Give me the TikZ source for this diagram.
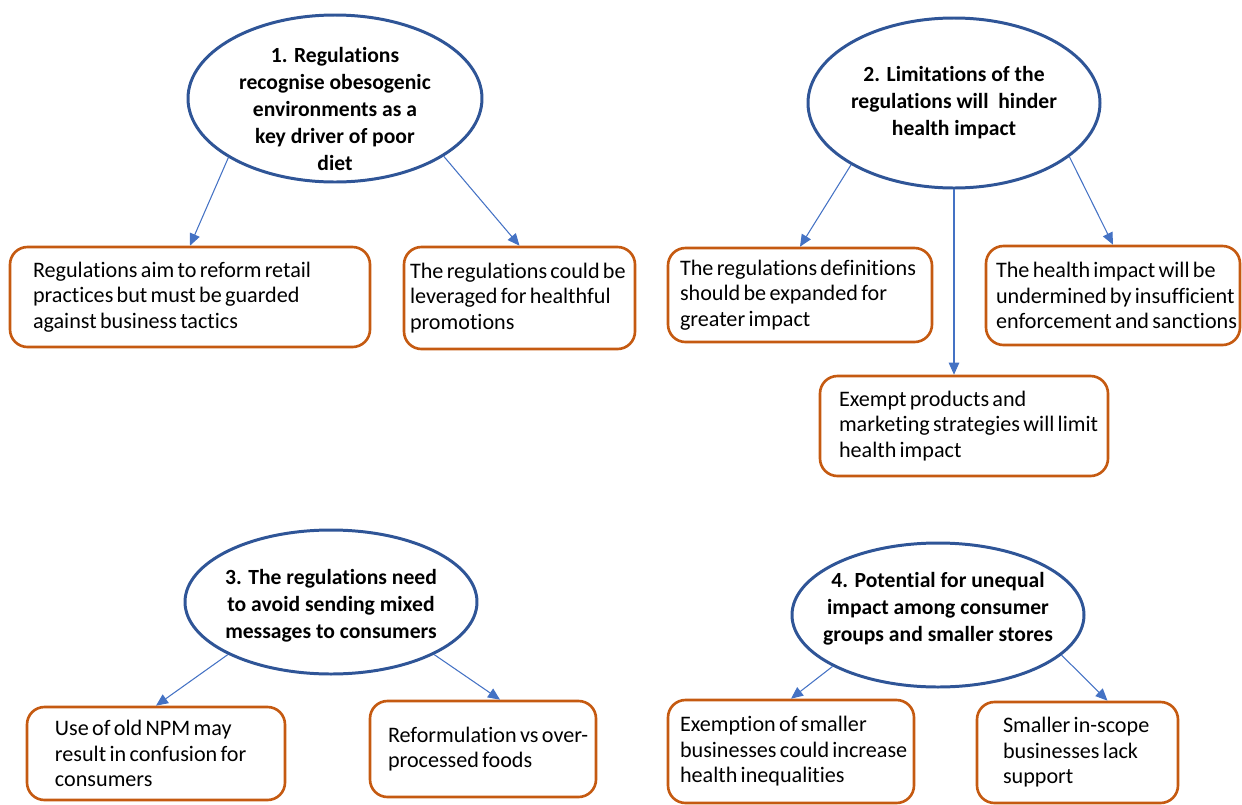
\documentclass[tikz,border=0pt]{standalone}
\usepackage{fontspec}
\setmainfont{Carlito}[Ligatures=CommonOff]
\usetikzlibrary{shapes.geometric,arrows.meta}
\definecolor{themeblue}{HTML}{2F5597}
\definecolor{linkblue}{HTML}{4472C4}
\definecolor{boxorange}{HTML}{C55A11}
\newcommand{\boxtext}[2]{\leftskip=#1\relax\spaceskip=0.15em\relax #2\par}

\begin{document}
\begin{tikzpicture}[
        theme/.style={ellipse, draw=themeblue, line width=1.7pt, inner sep=0pt},
        themetext/.style={align=center, inner sep=0pt, font=\fontsize{12.3}{15.4}\selectfont\bfseries},
        finding/.style={rectangle, rounded corners=3.5mm, draw=boxorange, line width=1.5pt,
                align=left, inner sep=0pt, font=\fontsize{12.6}{14.5}\selectfont},
        link/.style={draw=linkblue, line width=0.6pt, -{Triangle[length=2.4mm,width=2.1mm]}}
]
        \useasboundingbox (0cm, 0cm) rectangle (24.84cm, -16.10cm);
        \node (e1) [theme, minimum width=5.88cm, minimum height=3.34cm] at (6.70cm, -1.97cm) {};
        \node (t1) [themetext] at ([yshift=-0.21cm]e1.center)
{1. Regulations\\recognise obesogenic\\environments as a\\key driver of poor\\diet};
        \node (e2) [theme, minimum width=5.84cm, minimum height=3.40cm] at (19.08cm, -2.06cm) {};
        \node (t2) [themetext] at (e2.center)
{2. Limitations of the\\regulations will\ \ hinder\\health impact};
        \node (e3) [theme, minimum width=5.84cm, minimum height=2.88cm] at (6.62cm, -12.04cm) {};
        \node (t3) [themetext] at ([yshift=-0.08cm]e3.center)
{3. The regulations need\\to avoid sending mixed\\messages to consumers};
        \node (e4) [theme, minimum width=5.84cm, minimum height=2.88cm] at (18.76cm, -12.30cm) {};
        \node (t4) [themetext] at ([yshift=0.12cm]e4.center)
{4. Potential for unequal\\impact among consumer\\groups and smaller stores};
        \node (b1) [finding, minimum height=2.00cm, text width=7.20cm] at (3.80cm, -5.94cm)
{\boxtext{0.46cm}{Regulations aim to reform retail\\practices but must be guarded\\against business tactics}};
        \node (b2) [finding, minimum height=2.04cm, text width=4.62cm] at (10.39cm, -5.96cm)
{\boxtext{0.12cm}{The regulations could be\\leveraged for healthful\\promotions}};
        \node (b3) [finding, minimum height=1.88cm, text width=5.28cm] at (16.00cm, -5.90cm)
{\boxtext{0.24cm}{The regulations definitions\\should be expanded for\\greater impact}};
        \node (b4) [finding, minimum height=1.98cm, text width=5.08cm] at (22.26cm, -5.91cm)
{\boxtext{0.20cm}{The health impact will be\\undermined by insufficient\\enforcement and sanctions}};
        \node (b5) [finding, minimum height=2.00cm, text width=5.76cm] at (19.28cm, -8.52cm)
{\boxtext{0.38cm}{Exempt products and\\marketing strategies will limit\\health impact}};
        \node (b6) [finding, minimum height=1.86cm, text width=5.16cm] at (3.12cm, -15.07cm)
{\boxtext{0.56cm}{Use of old NPM may\\result in confusion for\\consumers}};
        \node (b7) [finding, minimum height=1.92cm, text width=4.52cm] at (9.66cm, -14.98cm)
{\boxtext{0.36cm}{Reformulation vs over-\\processed foods}};
        \node (b8) [finding, minimum height=2.06cm, text width=4.92cm] at (15.82cm, -15.03cm)
{\boxtext{0.24cm}{Exemption of smaller\\businesses could increase\\health inequalities}};
        \node (b9) [finding, minimum height=2.02cm, text width=4.02cm] at (21.55cm, -15.05cm)
{\boxtext{0.52cm}{Smaller in-scope\\businesses lack\\support}};
        \draw (e1.209) edge [link] (b1.north);
        \draw (e1.332) edge [link] (b2.north);
        \draw (e2.211) edge [link] (b3.north);
        \draw (e2.south) edge [link] (e2.south |- b5.north);
        \draw (e2.335) edge [link] (b4.north);
        \draw (e3.207) edge [link] (b6.north);
        \draw (e3.333) edge [link] ([xshift=0.34cm]b7.north);
        \draw (e4.206) edge [link] (b8.north);
        \draw (e4.342) edge [link] ([xshift=0.60cm]b9.north);
\end{tikzpicture}
\end{document}
